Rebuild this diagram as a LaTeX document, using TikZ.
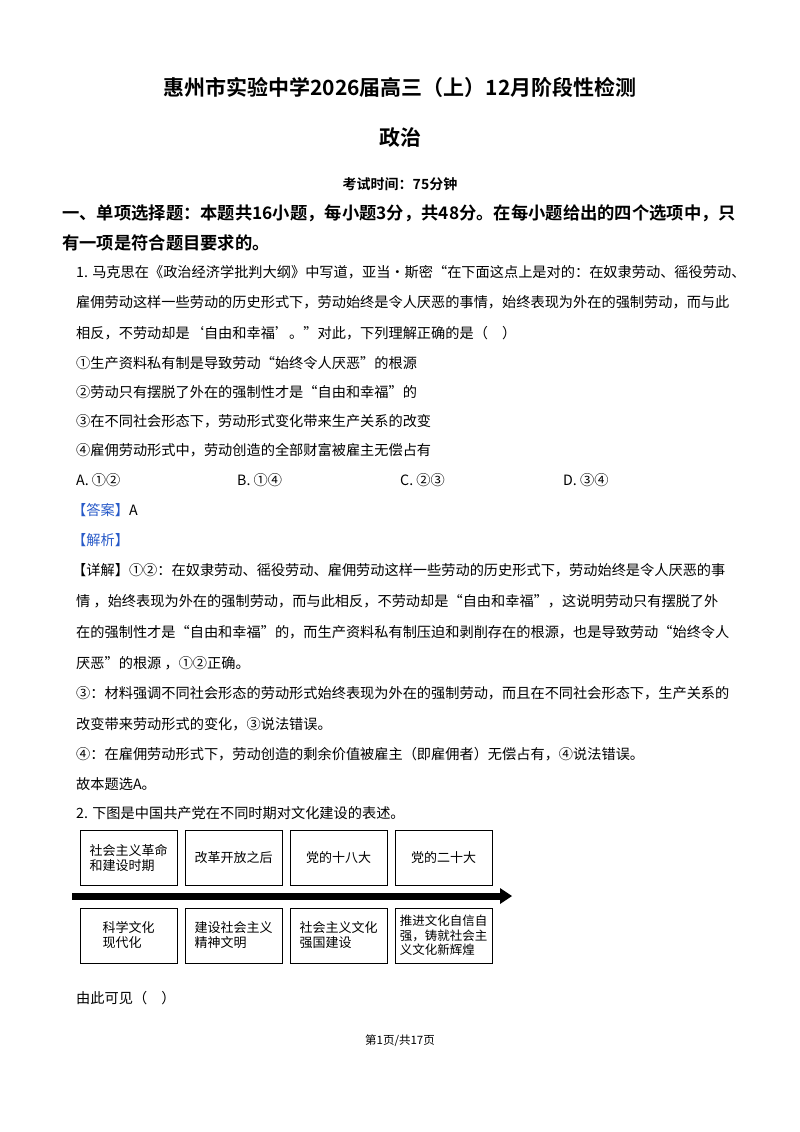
\documentclass[tikz,border=0pt]{standalone}
\usepackage{fontspec}
\setmainfont{Noto Sans CJK SC}
\newfontfamily\cjkb{Noto Sans CJK SC Bold}
\begin{document}
\begin{tikzpicture}[x=1pt,y=-1pt,
  ln/.style={anchor=west,inner sep=0pt,font=\fontsize{14.2}{14.2}\selectfont},
  bx/.style={draw,line width=0.8pt,minimum width=97pt,minimum height=55pt,inner sep=2pt,align=left,font=\fontsize{13}{15}\selectfont},
  blu/.style={ln,text={rgb,255:red,40;green,90;blue,200}}]
\useasboundingbox (0,0) rectangle (800,1132);
\node[inner sep=0pt,font=\fontsize{21}{21}\selectfont\cjkb] (t1) at (400,87) {惠州市实验中学2026届高三（上）12月阶段性检测};
\node[inner sep=0pt,font=\fontsize{21}{21}\selectfont\cjkb] (t2) at (400,138) {政治};
\node[inner sep=0pt,font=\fontsize{14}{14}\selectfont\cjkb] (t3) at (400,184) {考试时间：75分钟};
\node[ln,font=\fontsize{17.3}{17.3}\selectfont\cjkb] (s1) at (62,213) {一、单项选择题：本题共16小题，每小题3分，共48分。在每小题给出的四个选项中，只};
\node[ln,font=\fontsize{17.3}{17.3}\selectfont\cjkb] (s2) at (62,243) {有一项是符合题目要求的。};
\node[ln] (a1) at (76,272) {1. 马克思在《政治经济学批判大纲》中写道，亚当·斯密“在下面这点上是对的：在奴隶劳动、徭役劳动、};
\node[ln] (a2) at (76,302) {雇佣劳动这样一些劳动的历史形式下，劳动始终是令人厌恶的事情，始终表现为外在的强制劳动，而与此};
\node[ln] (a3) at (76,333) {相反，不劳动却是‘自由和幸福’。”对此，下列理解正确的是（\quad ）};
\node[ln] (a4) at (76,363) {①生产资料私有制是导致劳动“始终令人厌恶”的根源};
\node[ln] (a5) at (76,392) {②劳动只有摆脱了外在的强制性才是“自由和幸福”的};
\node[ln] (a6) at (76,421) {③在不同社会形态下，劳动形式变化带来生产关系的改变};
\node[ln] (a7) at (76,450) {④雇佣劳动形式中，劳动创造的全部财富被雇主无偿占有};
\node[ln] (oA) at (76,480) {A. ①②};
\node[ln] (oB) at (237,480) {B. ①④};
\node[ln] (oC) at (400,480) {C. ②③};
\node[ln] (oD) at (563,480) {D. ③④};
\node[blu] (ans) at (72,510) {【答案】\textcolor{black}{A}};
\node[blu] (jx) at (72,540) {【解析】};
\node[ln] (d1) at (72,570) {【详解】①②：在奴隶劳动、徭役劳动、雇佣劳动这样一些劳动的历史形式下，劳动始终是令人厌恶的事};
\node[ln] (d2) at (76,601) {情 ，始终表现为外在的强制劳动，而与此相反，不劳动却是“自由和幸福”，这说明劳动只有摆脱了外};
\node[ln] (d3) at (76,632) {在的强制性才是“自由和幸福”的，而生产资料私有制压迫和剥削存在的根源，也是导致劳动“始终令人};
\node[ln] (d4) at (76,663) {厌恶”的根源 ，①②正确。};
\node[ln] (d5) at (76,693) {③：材料强调不同社会形态的劳动形式始终表现为外在的强制劳动，而且在不同社会形态下，生产关系的};
\node[ln] (d6) at (76,724) {改变带来劳动形式的变化，③说法错误。};
\node[ln] (d7) at (76,754) {④：在雇佣劳动形式下，劳动创造的剩余价值被雇主（即雇佣者）无偿占有，④说法错误。};
\node[ln] (d8) at (76,784) {故本题选A。};
\node[ln] (q2) at (76,813) {2. 下图是中国共产党在不同时期对文化建设的表述。};
\node[bx] (u1) at (128.5,857.5) {社会主义革命\\和建设时期};
\node[bx] (u2) at (233.5,857.5) {改革开放之后};
\node[bx] (u3) at (338.5,857.5) {党的十八大};
\node[bx] (u4) at (443.5,857.5) {党的二十大};
\node[bx] (b1) at (128.5,935.5) {科学文化\\现代化};
\node[bx] (b2) at (233.5,935.5) {建设社会主义\\精神文明};
\node[bx] (b3) at (338.5,935.5) {社会主义文化\\强国建设};
\node[bx,font=\fontsize{12.5}{14.5}\selectfont] (b4) at (443.5,935.5) {推进文化自信自\\强，铸就社会主\\义文化新辉煌};
\coordinate (as) at (72,896);
\coordinate (ae) at (512,896);
\fill (as)++(0,-3.5) rectangle (500,899.5);
\fill (500,888) -- (ae) -- (500,904) -- cycle;
\node[ln] (q3) at (76,998) {由此可见（\quad ）};
\node[inner sep=0pt,font=\fontsize{11.5}{11.5}\selectfont] (ft) at (400,1041) {第1页/共17页};
\end{tikzpicture}
\end{document}
